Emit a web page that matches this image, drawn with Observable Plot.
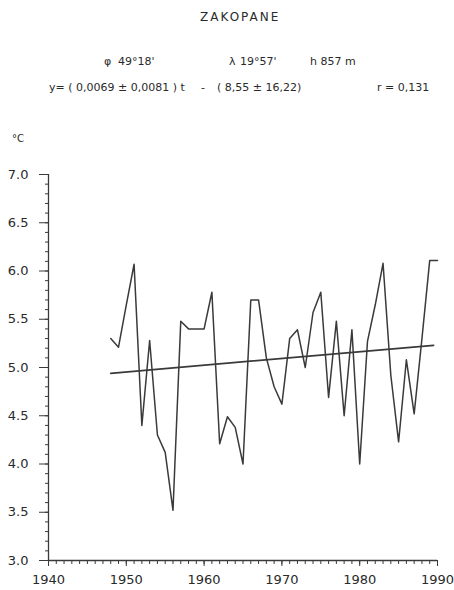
<!DOCTYPE html>
<html>
<head>
<meta charset="utf-8">
<script src="https://cdn.jsdelivr.net/npm/d3@7"></script>
<script src="https://cdn.jsdelivr.net/npm/@observablehq/plot@0.6"></script>
<style>
  html, body { margin: 0; padding: 0; background: #fff; }
  #wrap { position: relative; width: 454px; height: 590px; font-family: 'DejaVu Sans', sans-serif; color: #2a2a2a; }
  #head { position: relative; width: 454px; height: 120px; }
  #wrap span.t { position: absolute; white-space: pre; font-size: 11px; line-height: 1; z-index: 2; }
  #chart { position: absolute; left: 0; top: 120px; z-index: 1; }
</style>
</head>
<body>
<div id="wrap">
  <div id="head">
    <span class="t" style="left:200px; top:11px; font-size:12px; letter-spacing:2px;">ZAKOPANE</span>
    <span class="t" style="left:104px; top:56px;">φ</span>
    <span class="t" style="left:118px; top:56px;">49°18'</span>
    <span class="t" style="left:229px; top:56px;">λ</span>
    <span class="t" style="left:240px; top:56px;">19°57'</span>
    <span class="t" style="left:310px; top:56px;">h 857 m</span>
    <span class="t" style="left:49px; top:82px;">y= ( 0,0069 ± 0,0081 ) t</span>
    <span class="t" style="left:201px; top:82px;">-</span>
    <span class="t" style="left:217px; top:82px;">( 8,55 ± 16,22)</span>
    <span class="t" style="left:377px; top:82px;">r = 0,131</span>
  </div>
  <span class="t" style="left:12px; top:134px; font-size:10px;">°C</span>
  <div id="chart"></div>
</div>
<script>
const years = d3.range(1948, 1991);
const temps = [
  5.30, 5.21, 5.65, 6.07, 4.40, 5.28, 4.30, 4.12, 3.52, 5.48,
  5.40, 5.40, 5.40, 5.78, 4.21, 4.49, 4.38, 4.00, 5.70, 5.70,
  5.10, 4.80, 4.62, 5.30, 5.39, 5.00, 5.57, 5.78, 4.69, 5.48,
  4.50, 5.39, 4.00, 5.27, 5.65, 6.08, 4.92, 4.23, 5.08, 4.52,
  5.30, 6.11, 6.11
];
const trendYears = [1948, 1989.5];
const trendValues = [4.94, 5.23];
const majorY = [3.0, 3.5, 4.0, 4.5, 5.0, 5.5, 6.0, 6.5, 7.0];
const minorY = d3.range(30, 71).map(d => d / 10);
const decades = [1940, 1950, 1960, 1970, 1980, 1990];
const allYears = d3.range(1940, 1991);

const series = years.map((y, i) => ({year: y, temp: temps[i]}));
const trend = trendYears.map((y, i) => ({year: y, temp: trendValues[i]}));
const ink = "#3a3a3a";

const chart = Plot.plot({
  width: 454,
  height: 470,
  marginLeft: 48,
  marginRight: 17,
  marginTop: 54,
  marginBottom: 30,
  x: {domain: [1940, 1990], label: null},
  y: {domain: [3, 7], label: null},
  style: {fontFamily: "'DejaVu Sans', sans-serif", fontSize: "13px", color: "#2a2a2a", background: "transparent"},
  marks: [
    Plot.axisY({ticks: minorY, tickSize: 3, text: null, label: null, stroke: ink}),
    Plot.axisY({ticks: majorY, tickSize: 9, tickPadding: 11, tickFormat: d3.format(".1f"), label: null, stroke: ink}),
    Plot.axisX({ticks: allYears, tickSize: 4, text: null, label: null, stroke: ink}),
    Plot.axisX({ticks: decades, tickSize: 6, tickPadding: 8, tickFormat: d => String(d), label: null, stroke: ink}),
    Plot.ruleX([1940], {y1: 3, y2: 7, stroke: ink, strokeWidth: 1.3}),
    Plot.ruleY([3], {x1: 1940, x2: 1990, stroke: ink, strokeWidth: 1.3}),
    Plot.line(series, {x: "year", y: "temp", stroke: ink, strokeWidth: 1.5}),
    Plot.line(trend, {x: "year", y: "temp", stroke: ink, strokeWidth: 1.8})
  ]
});
document.getElementById("chart").appendChild(chart);
</script>
</body>
</html>
